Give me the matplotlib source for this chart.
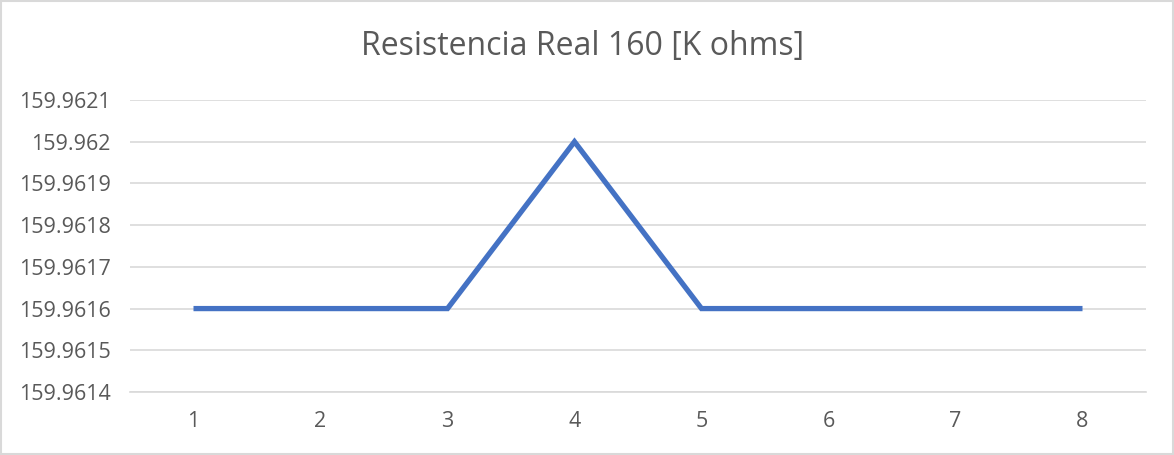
import matplotlib
matplotlib.use("Agg")
import matplotlib.pyplot as plt
from matplotlib.patches import Rectangle
from matplotlib.ticker import FixedLocator, FuncFormatter

# data
x = [1, 2, 3, 4, 5, 6, 7, 8]
res = [159.9616, 159.9616, 159.9616, 159.9620, 159.9616, 159.9616, 159.9616, 159.9616]
yticks = [159.9614, 159.9615, 159.9616, 159.9617, 159.9618, 159.9619, 159.9620, 159.9621]

plt.rcParams["font.family"] = ["Open Sans", "DejaVu Sans"]
TXT = "#595959"
GRID = "#d9d9d9"

fig = plt.figure(figsize=(11.74, 4.55), dpi=100)
ax = fig.add_axes([130 / 1174, 1 - 392 / 455, 1016 / 1174, 292 / 455])

ax.plot(x, res, color="#4472C4", linewidth=3.8, solid_capstyle="butt", solid_joinstyle="miter", zorder=3)

ax.set_xlim(0.5, 8.5)
ax.set_ylim(159.9614, 159.9621)
ax.yaxis.set_major_locator(FixedLocator(yticks))
ax.yaxis.set_major_formatter(FuncFormatter(lambda v, p: f"{v:.4f}".rstrip("0")))
ax.set_xticks(x)
ax.grid(axis="y", color=GRID, linewidth=1.2)
ax.set_axisbelow(True)
for s in ["top", "right", "left"]:
    ax.spines[s].set_visible(False)
ax.spines["bottom"].set_color(GRID)
ax.spines["bottom"].set_linewidth(1.2)
ax.tick_params(axis="both", length=0, labelsize=15.5, colors=TXT)
ax.tick_params(axis="y", pad=14)
ax.tick_params(axis="x", pad=14)

fig.text(583 / 1174, 1 - 47 / 455, "Resistencia Real 160 [K ohms]", ha="center", va="center",
         fontsize=23, color=TXT)

# chart border
fig.patches.append(Rectangle((0.001, 0.002), 0.998, 0.996, transform=fig.transFigure,
                             fill=False, edgecolor=GRID, linewidth=1.5))

fig.savefig("out.png", dpi=100)
